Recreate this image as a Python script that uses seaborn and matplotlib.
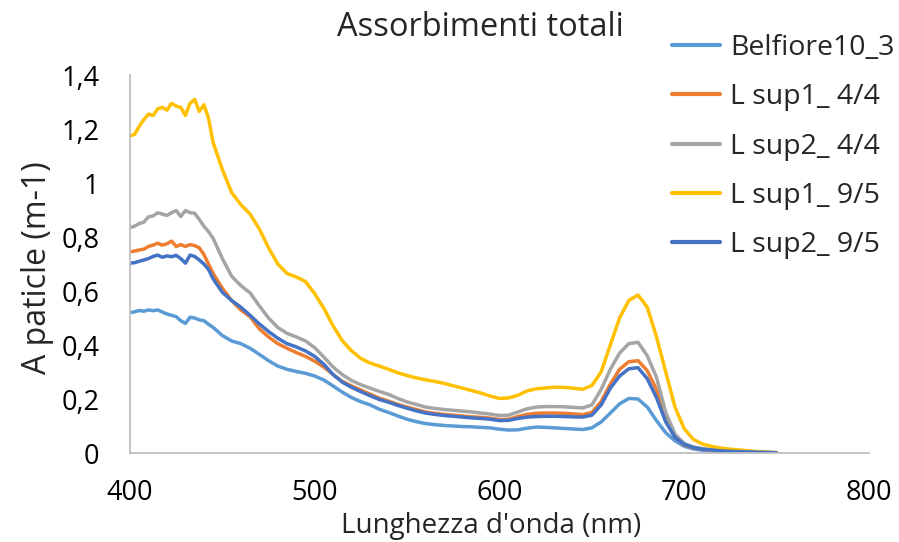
import numpy as np
import pandas as pd
import matplotlib
matplotlib.use("Agg")
import matplotlib.pyplot as plt
from matplotlib.ticker import FuncFormatter
import seaborn as sns

# Wavelength grid (nm)
wavelength = [400, 402.5, 405, 407.5, 410, 412.5, 415, 417.5, 420, 422.5, 425, 427.5,
              430, 432.5, 435, 437.5, 440, 442.5, 445] + list(range(450, 751, 5))

belfiore10_3 = [0.52, 0.523, 0.528, 0.525, 0.53, 0.527, 0.53, 0.522, 0.515, 0.51, 0.505, 0.49,
                0.48, 0.503, 0.5, 0.493, 0.49, 0.477, 0.465,
                0.435, 0.415, 0.405, 0.388, 0.365, 0.342, 0.322, 0.31, 0.302, 0.295,
                0.285, 0.27, 0.248, 0.225, 0.205, 0.19, 0.178, 0.162, 0.15, 0.137,
                0.125, 0.116, 0.109, 0.105, 0.102, 0.1, 0.098, 0.097, 0.095, 0.093,
                0.088, 0.085, 0.086, 0.092, 0.096, 0.095, 0.093, 0.091, 0.089, 0.087,
                0.093, 0.115, 0.148, 0.182, 0.202, 0.2, 0.17, 0.12, 0.075, 0.045,
                0.025, 0.015, 0.01, 0.007, 0.005, 0.004, 0.003, 0.002, 0.002, 0.001, 0.0]

l_sup1_4_4 = [0.745, 0.748, 0.752, 0.755, 0.765, 0.77, 0.777, 0.77, 0.775, 0.785, 0.765, 0.772,
              0.765, 0.772, 0.768, 0.76, 0.735, 0.7, 0.665,
              0.61, 0.565, 0.53, 0.505, 0.46, 0.43, 0.405, 0.388, 0.372, 0.358,
              0.34, 0.318, 0.29, 0.265, 0.248, 0.233, 0.218, 0.203, 0.192, 0.18,
              0.17, 0.161, 0.152, 0.147, 0.143, 0.14, 0.137, 0.134, 0.132, 0.129,
              0.124, 0.125, 0.135, 0.143, 0.147, 0.148, 0.148, 0.147, 0.145, 0.142,
              0.15, 0.19, 0.255, 0.31, 0.338, 0.342, 0.305, 0.235, 0.13, 0.06,
              0.03, 0.019, 0.014, 0.011, 0.008, 0.006, 0.005, 0.004, 0.003, 0.002, 0.001]

l_sup2_4_4 = [0.835, 0.84, 0.85, 0.855, 0.875, 0.878, 0.89, 0.885, 0.88, 0.89, 0.898, 0.876,
              0.898, 0.89, 0.888, 0.865, 0.84, 0.82, 0.795,
              0.72, 0.655, 0.62, 0.593, 0.545, 0.5, 0.465, 0.443, 0.43, 0.415,
              0.39, 0.355, 0.318, 0.29, 0.268, 0.253, 0.24, 0.228, 0.217, 0.202,
              0.189, 0.18, 0.17, 0.165, 0.161, 0.158, 0.155, 0.152, 0.148, 0.144,
              0.139, 0.14, 0.152, 0.164, 0.17, 0.172, 0.172, 0.171, 0.169, 0.167,
              0.178, 0.235, 0.31, 0.37, 0.405, 0.41, 0.36, 0.28, 0.15, 0.07,
              0.035, 0.022, 0.016, 0.012, 0.009, 0.007, 0.005, 0.004, 0.003, 0.002, 0.001]

l_sup1_9_5 = [1.175, 1.18, 1.21, 1.235, 1.255, 1.25, 1.275, 1.28, 1.27, 1.295, 1.285, 1.28,
              1.25, 1.295, 1.31, 1.265, 1.29, 1.24, 1.15,
              1.05, 0.965, 0.92, 0.885, 0.83, 0.76, 0.70, 0.665, 0.652, 0.635,
              0.59, 0.535, 0.47, 0.415, 0.378, 0.35, 0.333, 0.322, 0.31, 0.297,
              0.287, 0.278, 0.271, 0.265, 0.258, 0.249, 0.24, 0.231, 0.222, 0.211,
              0.202, 0.204, 0.214, 0.23, 0.238, 0.241, 0.244, 0.243, 0.24, 0.236,
              0.25, 0.30, 0.40, 0.50, 0.565, 0.585, 0.54, 0.43, 0.30, 0.17,
              0.09, 0.05, 0.033, 0.024, 0.018, 0.014, 0.011, 0.008, 0.005, 0.003, 0.001]

l_sup2_9_5 = [0.703, 0.705, 0.71, 0.715, 0.72, 0.728, 0.733, 0.725, 0.73, 0.727, 0.732, 0.72,
              0.703, 0.733, 0.728, 0.715, 0.7, 0.68, 0.645,
              0.595, 0.565, 0.54, 0.51, 0.478, 0.45, 0.425, 0.405, 0.393, 0.378,
              0.358, 0.328, 0.29, 0.262, 0.243, 0.227, 0.212, 0.198, 0.188, 0.176,
              0.166, 0.156, 0.148, 0.143, 0.139, 0.136, 0.133, 0.13, 0.128, 0.125,
              0.12, 0.121, 0.128, 0.133, 0.135, 0.136, 0.136, 0.135, 0.134, 0.133,
              0.14, 0.178, 0.24, 0.285, 0.312, 0.316, 0.275, 0.205, 0.115, 0.058,
              0.032, 0.02, 0.014, 0.011, 0.008, 0.006, 0.005, 0.004, 0.003, 0.002, 0.001]

series_names = ["Belfiore10_3", "L sup1_ 4/4", "L sup2_ 4/4", "L sup1_ 9/5", "L sup2_ 9/5"]
series_values = [belfiore10_3, l_sup1_4_4, l_sup2_4_4, l_sup1_9_5, l_sup2_9_5]
colors = ["#5B9BD5", "#ED7D31", "#A5A5A5", "#FFC000", "#4472C4"]

x_ticks = [400, 500, 600, 700, 800]
y_ticks = [0, 0.2, 0.4, 0.6, 0.8, 1.0, 1.2, 1.4]

frames = [pd.DataFrame({"wl": wavelength, "A": vals, "campione": name})
          for name, vals in zip(series_names, series_values)]
df = pd.concat(frames, ignore_index=True)

sns.set_theme(style="white")
plt.rcParams["font.family"] = ["Open Sans", "DejaVu Sans"]

fig = plt.figure(figsize=(8.99, 5.42), dpi=100)
ax = fig.add_axes([0.1446, 0.1642, 0.822, 0.6974])

sns.lineplot(data=df, x="wl", y="A", hue="campione", hue_order=series_names,
             palette=colors, linewidth=2.5, sort=False, estimator=None,
             legend=False, ax=ax)

ax.set_xlim(400, 800)
ax.set_ylim(0, 1.4)
ax.set_xticks(x_ticks)
ax.set_yticks(y_ticks)
ax.yaxis.set_major_formatter(FuncFormatter(lambda v, p: f"{v:g}".replace(".", ",")))
ax.tick_params(axis="both", length=0, labelsize=19.5, colors="#000000")
ax.tick_params(axis="y", pad=22)
ax.tick_params(axis="x", pad=19)

for side in ["top", "right"]:
    ax.spines[side].set_visible(False)
for side in ["left", "bottom"]:
    ax.spines[side].set_color("#BFBFBF")
    ax.spines[side].set_linewidth(1.3)

ax.set_xlabel("")
ax.set_ylabel("")
fig.text(491 / 899, 1 - 526 / 542, "Lunghezza d'onda (nm)", ha="center", va="center",
         fontsize=20)
fig.text(38 / 899, 1 - 268 / 542, "A paticle (m-1)", ha="center", va="center",
         rotation=90, fontsize=23)
fig.text(480 / 899, 1 - 28 / 542, "Assorbimenti totali", ha="center", va="center",
         fontsize=23.5)

handles = [plt.Line2D([], [], color=c, linewidth=3) for c in colors]
fig.legend(handles, series_names, loc="upper left", bbox_to_anchor=(672 / 899, 1 - 34 / 542),
           frameon=False, fontsize=20.5, handlelength=1.7, handletextpad=0.35,
           labelspacing=0.75, borderaxespad=0, borderpad=0)

fig.savefig("out.png", dpi=100)
